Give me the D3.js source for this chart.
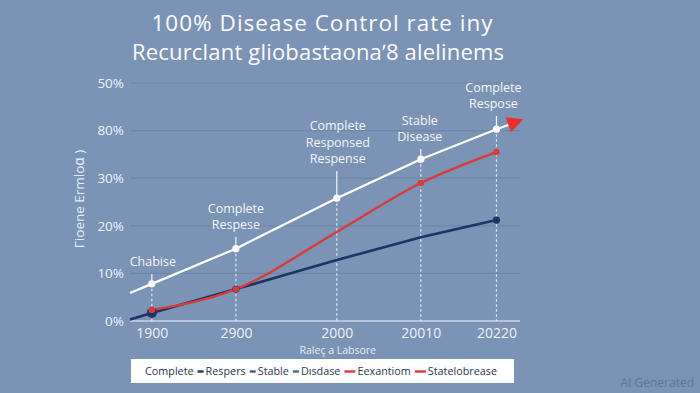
<!DOCTYPE html>
<html>
<head>
<meta charset="utf-8">
<script src="https://cdn.jsdelivr.net/npm/d3@7"></script>
<style>
  body { margin: 0; background: #7b93b4; }
  svg { display: block; font-family: "Open Sans", "Noto Sans", sans-serif; }
</style>
</head>
<body>
<div class="chart"></div>
<script>
// Chart values
var categories = ["1900", "2900", "2000", "20010", "20220"];
var catPos = [0, 1, 2.2, 3.2, 4.1];          // where each category sits on the x axis
var yTicks = [0, 10, 20, 30, 40, 50];
var yTickLabels = ["0%", "10%", "20%", "30%", "80%", "50%"];

// white line, with a lead-in point and the arrow end
var whiteX = [-0.26, 0, 1, 2.2, 3.2, 4.1, 4.42];
var whiteY = [5.9, 7.8, 15.2, 25.8, 34.0, 40.3, 42.4];
var redX = [0, 1, 2.2, 3.2, 4.1];
var redY = [2.3, 6.7, 18.7, 29.0, 35.5];
var navyX = [-0.26, 0, 1, 2.2, 3.2, 4.1];
var navyY = [0.3, 1.7, 6.7, 12.8, 17.6, 21.2];

var notes = [
  ["Chabise"],
  ["Complete", "Respese"],
  ["Complete", "Responsed", "Respense"],
  ["Stable", "Disease"],
  ["Complete", "Respose"]
];

var legendItems = [
  {label: "Complete", color: null},
  {label: "Respers", color: "#1b3566"},
  {label: "Stable", color: "#3f5f8f"},
  {label: "Dısdase", color: "#4a6490"},
  {label: "Eexantiom", color: "#d93b3b"},
  {label: "Statelobrease", color: "#d93b3b"}
];

var svgWidth = 700, svgHeight = 393;
var margin = {top: 83, right: 180, bottom: 72, left: 130};
var width = svgWidth - margin.left - margin.right;
var height = svgHeight - margin.top - margin.bottom;

var svg = d3.select(".chart").append("svg")
  .attr("width", svgWidth).attr("height", svgHeight);

svg.append("rect").attr("width", svgWidth).attr("height", svgHeight).attr("fill", "#7b93b4");

// Title
svg.append("text").attr("x", 322).attr("y", 30.5).attr("text-anchor", "middle")
  .attr("fill", "#fbfcfe").attr("font-size", 22.5).attr("font-weight", 500)
  .attr("textLength", 341).text("100% Disease Control rate iny");
svg.append("text").attr("x", 318).attr("y", 60).attr("text-anchor", "middle")
  .attr("fill", "#fbfcfe").attr("font-size", 22).attr("font-weight", 500).attr("textLength", 372)
  .text("Recurclant gliobastaona\u02bc8 alelinems");

var chart = svg.append("g").attr("transform", "translate(" + margin.left + "," + margin.top + ")");

var x = d3.scaleLinear().domain([-0.26, 4.38]).range([0, width]);
var y = d3.scaleLinear().domain([0, 50]).range([height, 0]);

// gridlines
chart.selectAll(".grid").data(yTicks.slice(1)).enter().append("line")
  .attr("x1", 0).attr("x2", width)
  .attr("y1", function(d) { return y(d); }).attr("y2", function(d) { return y(d); })
  .attr("stroke", "#6e86a8").attr("stroke-width", 1.2);

// y axis labels
var leftAxis = d3.axisLeft(y).tickValues(yTicks).tickSize(0).tickPadding(6)
  .tickFormat(function(d, i) { return yTickLabels[i]; });
chart.append("g").attr("class", "y-axis").call(leftAxis)
  .call(function(g) { g.select(".domain").remove(); })
  .selectAll("text").attr("fill", "#eef2f8").attr("font-size", 13.5)
  .attr("font-family", "Open Sans, sans-serif");

// baseline
chart.append("line").attr("x1", 0).attr("x2", width).attr("y1", height).attr("y2", height)
  .attr("stroke", "#c9d5e5").attr("stroke-width", 1.3);

// x axis labels
var bottomAxis = d3.axisBottom(x).tickValues(catPos).tickSize(0).tickPadding(7)
  .tickFormat(function(d, i) { return categories[i]; });
chart.append("g").attr("transform", "translate(0," + height + ")").call(bottomAxis)
  .call(function(g) { g.select(".domain").remove(); })
  .selectAll("text").attr("fill", "#eef2f8").attr("font-size", 14)
  .attr("font-family", "Open Sans, sans-serif");

// axis titles
chart.append("text").attr("x", x(2.2) + 1).attr("y", height + 33).attr("text-anchor", "middle")
  .attr("fill", "#e6ecf4").attr("font-size", 10.5).text("Raleç a Labsore");
svg.append("text").attr("transform", "translate(84,199) rotate(-90)").attr("text-anchor", "middle")
  .attr("fill", "#e6ecf4").attr("font-size", 13.5).text("Гioene Ermloɑ )");

// dashed drop lines from white points
chart.selectAll(".drop").data(catPos).enter().append("line")
  .attr("x1", function(d) { return x(d); }).attr("x2", function(d) { return x(d); })
  .attr("y1", function(d, i) { return y(whiteY[i + 1]); }).attr("y2", height)
  .attr("stroke", "#dfe7f2").attr("stroke-width", 1.2).attr("stroke-dasharray", "2.5,2.5");

// lines
function series(xs, ys) { return xs.map(function(v, i) { return [v, ys[i]]; }); }
var straight = d3.line().x(function(d) { return x(d[0]); }).y(function(d) { return y(d[1]); });
var smooth = d3.line().x(function(d) { return x(d[0]); }).y(function(d) { return y(d[1]); })
  .curve(d3.curveMonotoneX);

chart.append("path").datum(series(navyX, navyY)).attr("d", straight)
  .attr("fill", "none").attr("stroke", "#1b3566").attr("stroke-width", 2.6);
chart.append("path").datum(series(redX, redY)).attr("d", smooth)
  .attr("fill", "none").attr("stroke", "#d93b3b").attr("stroke-width", 2.4);
chart.append("path").datum(series(whiteX, whiteY).slice(0, 6)).attr("d", straight)
  .attr("fill", "none").attr("stroke", "#ffffff").attr("stroke-width", 2.2);
// arrow segment and head
var last = whiteX.length - 1;
var ax0 = x(whiteX[last - 1]), ay0 = y(whiteY[last - 1]);
var ax1 = x(whiteX[last]), ay1 = y(whiteY[last]);
chart.append("line").attr("x1", ax0).attr("y1", ay0).attr("x2", ax1 - 10).attr("y2", ay1 + 4)
  .attr("stroke", "#ffffff").attr("stroke-width", 2.2);
var ang = Math.atan2(ay1 - ay0, ax1 - ax0) * 180 / Math.PI;
chart.append("path").attr("d", "M0,0 L-16,-8 L-16,8 Z").attr("fill", "#e8302c")
  .attr("transform", "translate(" + ax1 + "," + ay1 + ") rotate(" + ang + ")");

// points
chart.selectAll(".navyPt").data([0, 1, 4]).enter().append("circle")
  .attr("cx", function(i) { return x(catPos[i]); })
  .attr("cy", function(i) { return y(navyY[i + 1]); })
  .attr("r", function(i) { return i === 0 ? 5 : 3.6; }).attr("fill", "#1b3566");
chart.selectAll(".redPt").data([0, 1, 3, 4]).enter().append("circle")
  .attr("cx", function(i) { return x(redX[i]); })
  .attr("cy", function(i) { return y(redY[i]); })
  .attr("r", 3.2).attr("fill", "#d93b3b");
chart.selectAll(".whitePt").data(catPos).enter().append("circle")
  .attr("cx", function(d) { return x(d); })
  .attr("cy", function(d, i) { return y(whiteY[i + 1]); })
  .attr("r", 3.6).attr("fill", "#ffffff");

// annotations
var noteX = [x(0) + 1, x(1), x(2.2) + 1, x(3.2) - 1, x(4.1) - 3];
var noteBottom = [266, 229, 163, 141, 108];
notes.forEach(function(lines, i) {
  var cx = noteX[i];
  var baseY = noteBottom[i] - margin.top;
  lines.forEach(function(t, j) {
    chart.append("text").attr("x", cx).attr("y", baseY - (lines.length - 1 - j) * 16.5)
      .attr("text-anchor", "middle").attr("fill", "#f3f6fa").attr("font-size", 12.5).text(t);
  });
  var py = y(whiteY[i + 1]);
  if (py - baseY > 12) {
    chart.append("line").attr("x1", x(catPos[i])).attr("x2", x(catPos[i]))
      .attr("y1", baseY + 8).attr("y2", py)
      .attr("stroke", "#f3f6fa").attr("stroke-width", 1.2);
  }
});

// legend
var legend = svg.append("g").attr("transform", "translate(131,359)");
legend.append("rect").attr("width", 383).attr("height", 24).attr("fill", "#ffffff");
var lx = 14;
legendItems.forEach(function(item) {
  if (item.color) {
    var red = item.color === "#d93b3b";
    legend.append("line").attr("x1", lx).attr("x2", lx + (red ? 11 : 6))
      .attr("y1", 12.5).attr("y2", 12.5).attr("stroke", item.color).attr("stroke-width", 2.4);
    lx += red ? 13 : 8;
  }
  var t = legend.append("text").attr("x", lx).attr("y", 16.3).attr("fill", "#2a3550")
    .attr("font-size", 10.8).text(item.label);
  lx += t.node().getComputedTextLength() + 4;
});

// watermark
svg.append("text").attr("x", 694).attr("y", 387).attr("text-anchor", "end")
  .attr("fill", "#5f7698").attr("font-size", 12).text("AI Generated");
</script>
</body>
</html>
